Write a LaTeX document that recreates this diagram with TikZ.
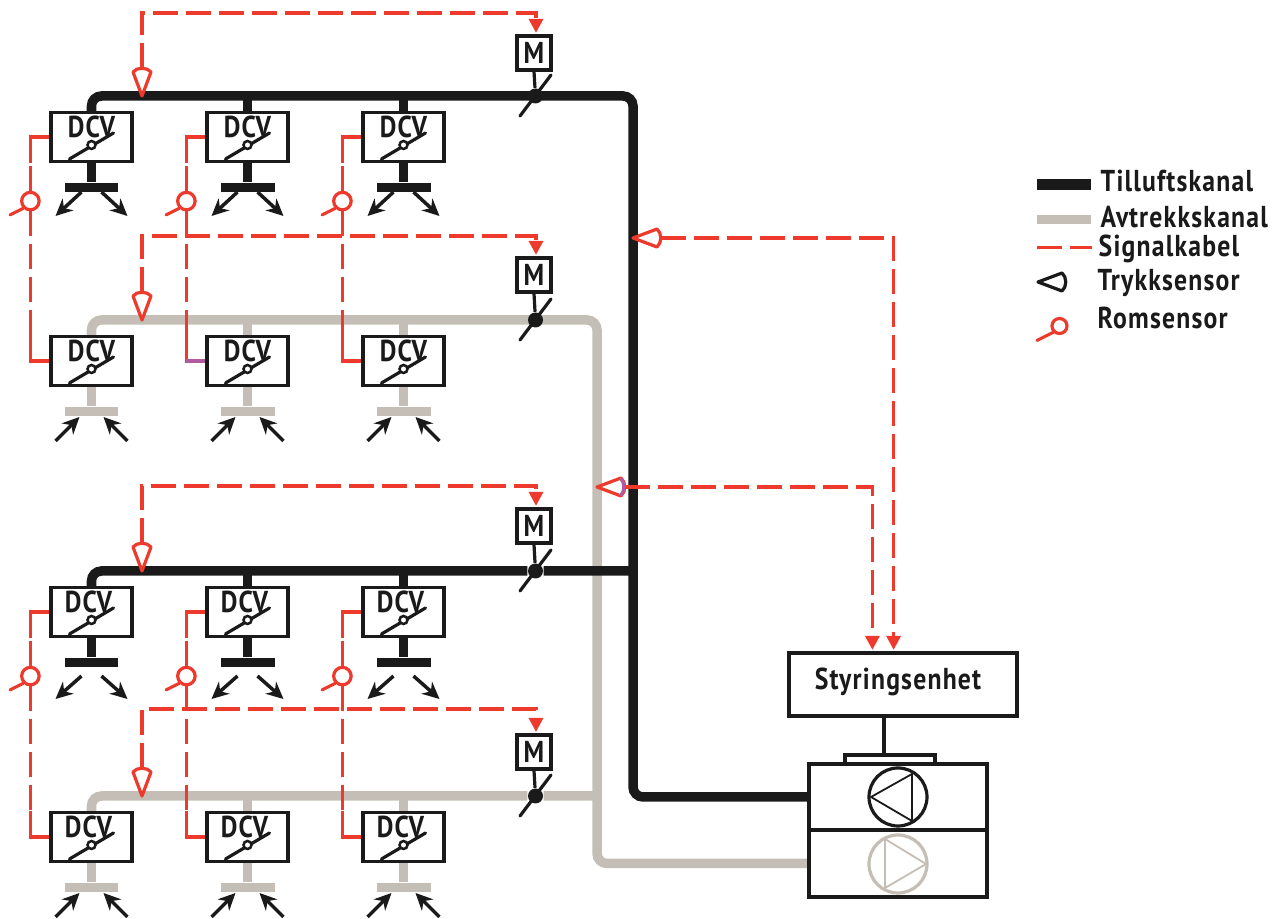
\documentclass[tikz,border=0pt]{standalone}
\usepackage{fontspec}
\setmainfont{PT Sans}[LetterSpace=4,FakeStretch=0.85]
\usetikzlibrary{arrows.meta,backgrounds}
\definecolor{kanalsort}{HTML}{1A1A1A}
\definecolor{kanalgraa}{HTML}{C5BEB6}
\definecolor{signalrod}{HTML}{EE3A2C}
\definecolor{lilla}{HTML}{B05AA0}
\tikzset{
    duct/.style={line width=0.095cm,rounded corners=0.10cm},
    stem/.style={line width=0.095cm},
    wire/.style={line width=0.032cm},
    signalfull/.style={signalrod,wire},
    signal/.style={signalfull,dash pattern=on 0.25cm off 0.08cm},
    signalend/.style={-{Triangle[width=0.14cm,length=0.14cm]},shorten >=0.015cm},
    tekst/.style={font=\fontsize{8.6}{9}\selectfont\bfseries,text=kanalsort,inner sep=0pt},
    boks/.style={draw=kanalsort,wire,fill=white,inner sep=0pt},
    dcvbox/.style={boks,minimum width=0.81cm,minimum height=0.49cm},
    mbox/.style={boks,minimum size=0.34cm},
    tbar/.style={minimum width=0.54cm,minimum height=0.09cm,inner sep=0pt},
    damperdot/.style={circle,fill=kanalsort,minimum size=0.15cm,inner sep=0pt},
    pivotdot/.style={circle,draw=kanalsort,line width=0.025cm,fill=white,minimum size=0.08cm,inner sep=0pt},
    romsensor/.style={circle,draw=signalrod,wire,fill=white,minimum size=0.175cm,inner sep=0pt},
    pumpe/.style={circle,wire,minimum size=0.58cm,inner sep=0pt},
    luftpil/.style={kanalsort,line width=0.035cm,-{Stealth[length=0.17cm,width=0.16cm]}},
    trykk/.pic={
        \draw[wire,fill=white,pic actions,line join=round] (0,0) -- (-0.09,-0.24)
            .. controls (-0.05,-0.29) and (0.05,-0.29) .. (0.09,-0.24) -- cycle;
        \coordinate (-top) at (0,-0.28);
    }
}
\begin{document}
\begin{tikzpicture}[y=-1cm]
    \useasboundingbox (0,0) rectangle (12.84,9.19);
    %% Floors
    \foreach \row/\ducty/\sigy/\my/\col/\tx/\xa/\ya/\xb/\yb in {
        1/0.96/-0.83/-0.43/kanalsort/0/0.10/0.96/0.36/1.20,
        2/3.20/-0.84/-0.45/kanalgraa/0/0.36/1.21/0.12/0.97,
        3/5.71/-0.85/-0.45/kanalsort/-0.03/0.10/1.05/0.36/1.28,
        4/7.96/-0.87/-0.44/kanalgraa/-0.03/0.36/1.21/0.12/0.97} {
        \begin{scope}[shift={(0,\ducty)}]
            \foreach \c/\cx in {1/0.915,2/2.475,3/4.035} {
                \node[dcvbox] (dcv\row\c) at (\cx,0.41) {};
                \node[tekst] (dcvtxt\row\c) at (\cx+\tx,0.31) {DCV};
                \node[tbar,fill=\col] (bar\row\c) at (\cx,0.915) {};
                \coordinate (tap\row\c) at (\cx,0);
                \draw[stem,\col] (dcv\row\c.south) -- (bar\row\c.north);
                %% vane
                \draw[kanalsort,wire,line cap=round] (\cx-0.22,0.63) -- (\cx+0.22,0.37);
                \node[pivotdot] (pivot\row\c) at (\cx,0.49) {};
                %% outlets
                \draw[luftpil] (\cx-\xa,\ya) -- (\cx-\xb,\yb);
                \draw[luftpil] (\cx+\xa,\ya) -- (\cx+\xb,\yb);
            }
            %% damper and motor
            \node[damperdot] (dot\row) at (5.355,0) {};
            \node[mbox] (mbox\row) at (5.34,\my) {};
            \node[tekst] (mtxt\row) at (mbox\row) {M};
            \draw[kanalsort,wire] (mbox\row.south) -- (dot\row);
            \draw[kanalsort,wire,line cap=round] (5.20,0.20) -- (5.51,-0.21);
            %% pressure sensor and cable
            \pic[signalrod] (ps\row) at (1.42,0) {trykk};
            \coordinate (sig\row) at (5.36,\sigy);
            \draw[signal,signalend] (ps\row-top) |- (sig\row) -- (sig\row |- mbox\row.north);
        \end{scope}
    }
    %% Room sensors
    \foreach \rowa/\rowb in {1/2,3/4} {
        \foreach \c in {1,2,3} {
            \path (dcv\rowa\c.south west) ++(-0.19,0.38) node[romsensor] (rs\rowa\c) {};
            \draw[signalfull,line cap=round] (rs\rowa\c.south west) -- ++(-0.13,0.065);
            \draw[signal] (rs\rowa\c.north) |- (dcv\rowa\c.west);
            \draw[signal] (rs\rowa\c.south) |- (dcv\rowb\c.west);
            \draw[signalfull] (rs\rowa\c |- dcv\rowa\c.south) |- (dcv\rowa\c.west);
            \draw[signalfull] (rs\rowa\c |- dcv\rowb\c.north) |- (dcv\rowb\c.west);
        }
    }
    %% Control unit and fans
    \node[boks,minimum width=2.28cm,minimum height=0.63cm] (styring) at (9.03,6.845) {};
    \node[tekst] (styrtxt) at (8.98,6.82) {Styringsenhet};
    \node[boks,minimum width=0.90cm,minimum height=0.09cm] (topp) at (8.90,7.595) {};
    \node[boks,minimum width=1.78cm,minimum height=0.66cm] (vifta) at (8.98,7.97) {};
    \node[boks,minimum width=1.78cm,minimum height=0.67cm] (viftb) at (8.98,8.635) {};
    \coordinate (kabel) at (8.84,7.2);
    \draw[kanalsort,wire] (kabel |- styring.south) -- (kabel |- topp.north);
    \node[pumpe,draw=kanalsort] (pumpa) at (8.98,7.97) {};
    \node[pumpe,draw=kanalgraa] (pumpb) at (8.98,8.64) {};
    \draw[kanalsort,line width=0.018cm,line join=round] (8.71,7.97) -- (9.12,7.74) -- (9.12,8.21) -- cycle;
    \draw[kanalgraa,line width=0.018cm,line join=round] (9.26,8.64) -- (8.85,8.39) -- (8.85,8.88) -- cycle;
    %% Main ducts
    \coordinate (tilluftmain) at (6.33,0.96);
    \coordinate (avtrekkmain) at (5.97,3.20);
    \begin{scope}[on background layer]
        \draw[duct,kanalgraa] (dcv21.north) |- (avtrekkmain) |- (viftb.west);
        \draw[duct,kanalgraa] (dcv41.north) |- (dot4) -- (dot4 -| avtrekkmain);
        \draw[duct,kanalsort] (dcv11.north) |- (tilluftmain) |- (vifta.west);
        \draw[duct,kanalsort] (dcv31.north) |- (dot3) -- (dot3 -| tilluftmain);
        \foreach \row/\col in {1/kanalsort,2/kanalgraa,3/kanalsort,4/kanalgraa} {
            \foreach \c in {2,3} {
                \draw[stem,\col] (tap\row\c) -- (dcv\row\c.north);
            }
        }
    \end{scope}
    %% Sensors on the mains
    \pic[signalrod,rotate=-90] (psa) at (6.33,2.38) {trykk};
    \pic[signalrod,rotate=-90] (psb) at (5.97,4.87) {trykk};
    \draw[signal,signalend] (psa-top) -| ([xshift=-1.25cm]styring.north east);
    \draw[signal,signalend] (psb-top) -| ([xshift=0.85cm]styring.north west);
    %% odd purple bits
    \draw[lilla,wire] (rs12 |- dcv22.west) -- (dcv22.west);
    \draw[lilla,wire] ([shift={(-0.045,-0.09)}]psb-top) .. controls ([shift={(0,-0.04)}]psb-top) and ([shift={(0,0.04)}]psb-top) .. ([shift={(-0.045,0.09)}]psb-top);
    %% Legend
    \draw[kanalsort,line width=0.11cm] (10.37,1.85) -- (10.91,1.85);
    \node[tekst,anchor=west] (tilluft) at (11.00,1.81) {Tilluftskanal};
    \draw[kanalgraa,line width=0.09cm] (10.37,2.20) -- (10.91,2.20);
    \node[tekst,anchor=west] (avtrekk) at (11.00,2.17) {Avtrekkskanal};
    \draw[signal] (10.37,2.475) -- (10.92,2.475);
    \node[tekst,anchor=west] (signalkabel) at (10.98,2.49) {Signalkabel};
    \pic[kanalsort,rotate=-90] (pslegend) at (10.38,2.82) {trykk};
    \node[tekst,anchor=west] (trykksensor) at (10.97,2.83) {Trykksensor};
    \node[romsensor,minimum size=0.15cm,fill=none] (rslegend) at (10.595,3.26) {};
    \draw[signalfull,line cap=round] (rslegend.south west) -- ++(-0.16,0.08);
    \node[tekst,anchor=west] (romsensor) at (10.97,3.18) {Romsensor};
\end{tikzpicture}
\end{document}
